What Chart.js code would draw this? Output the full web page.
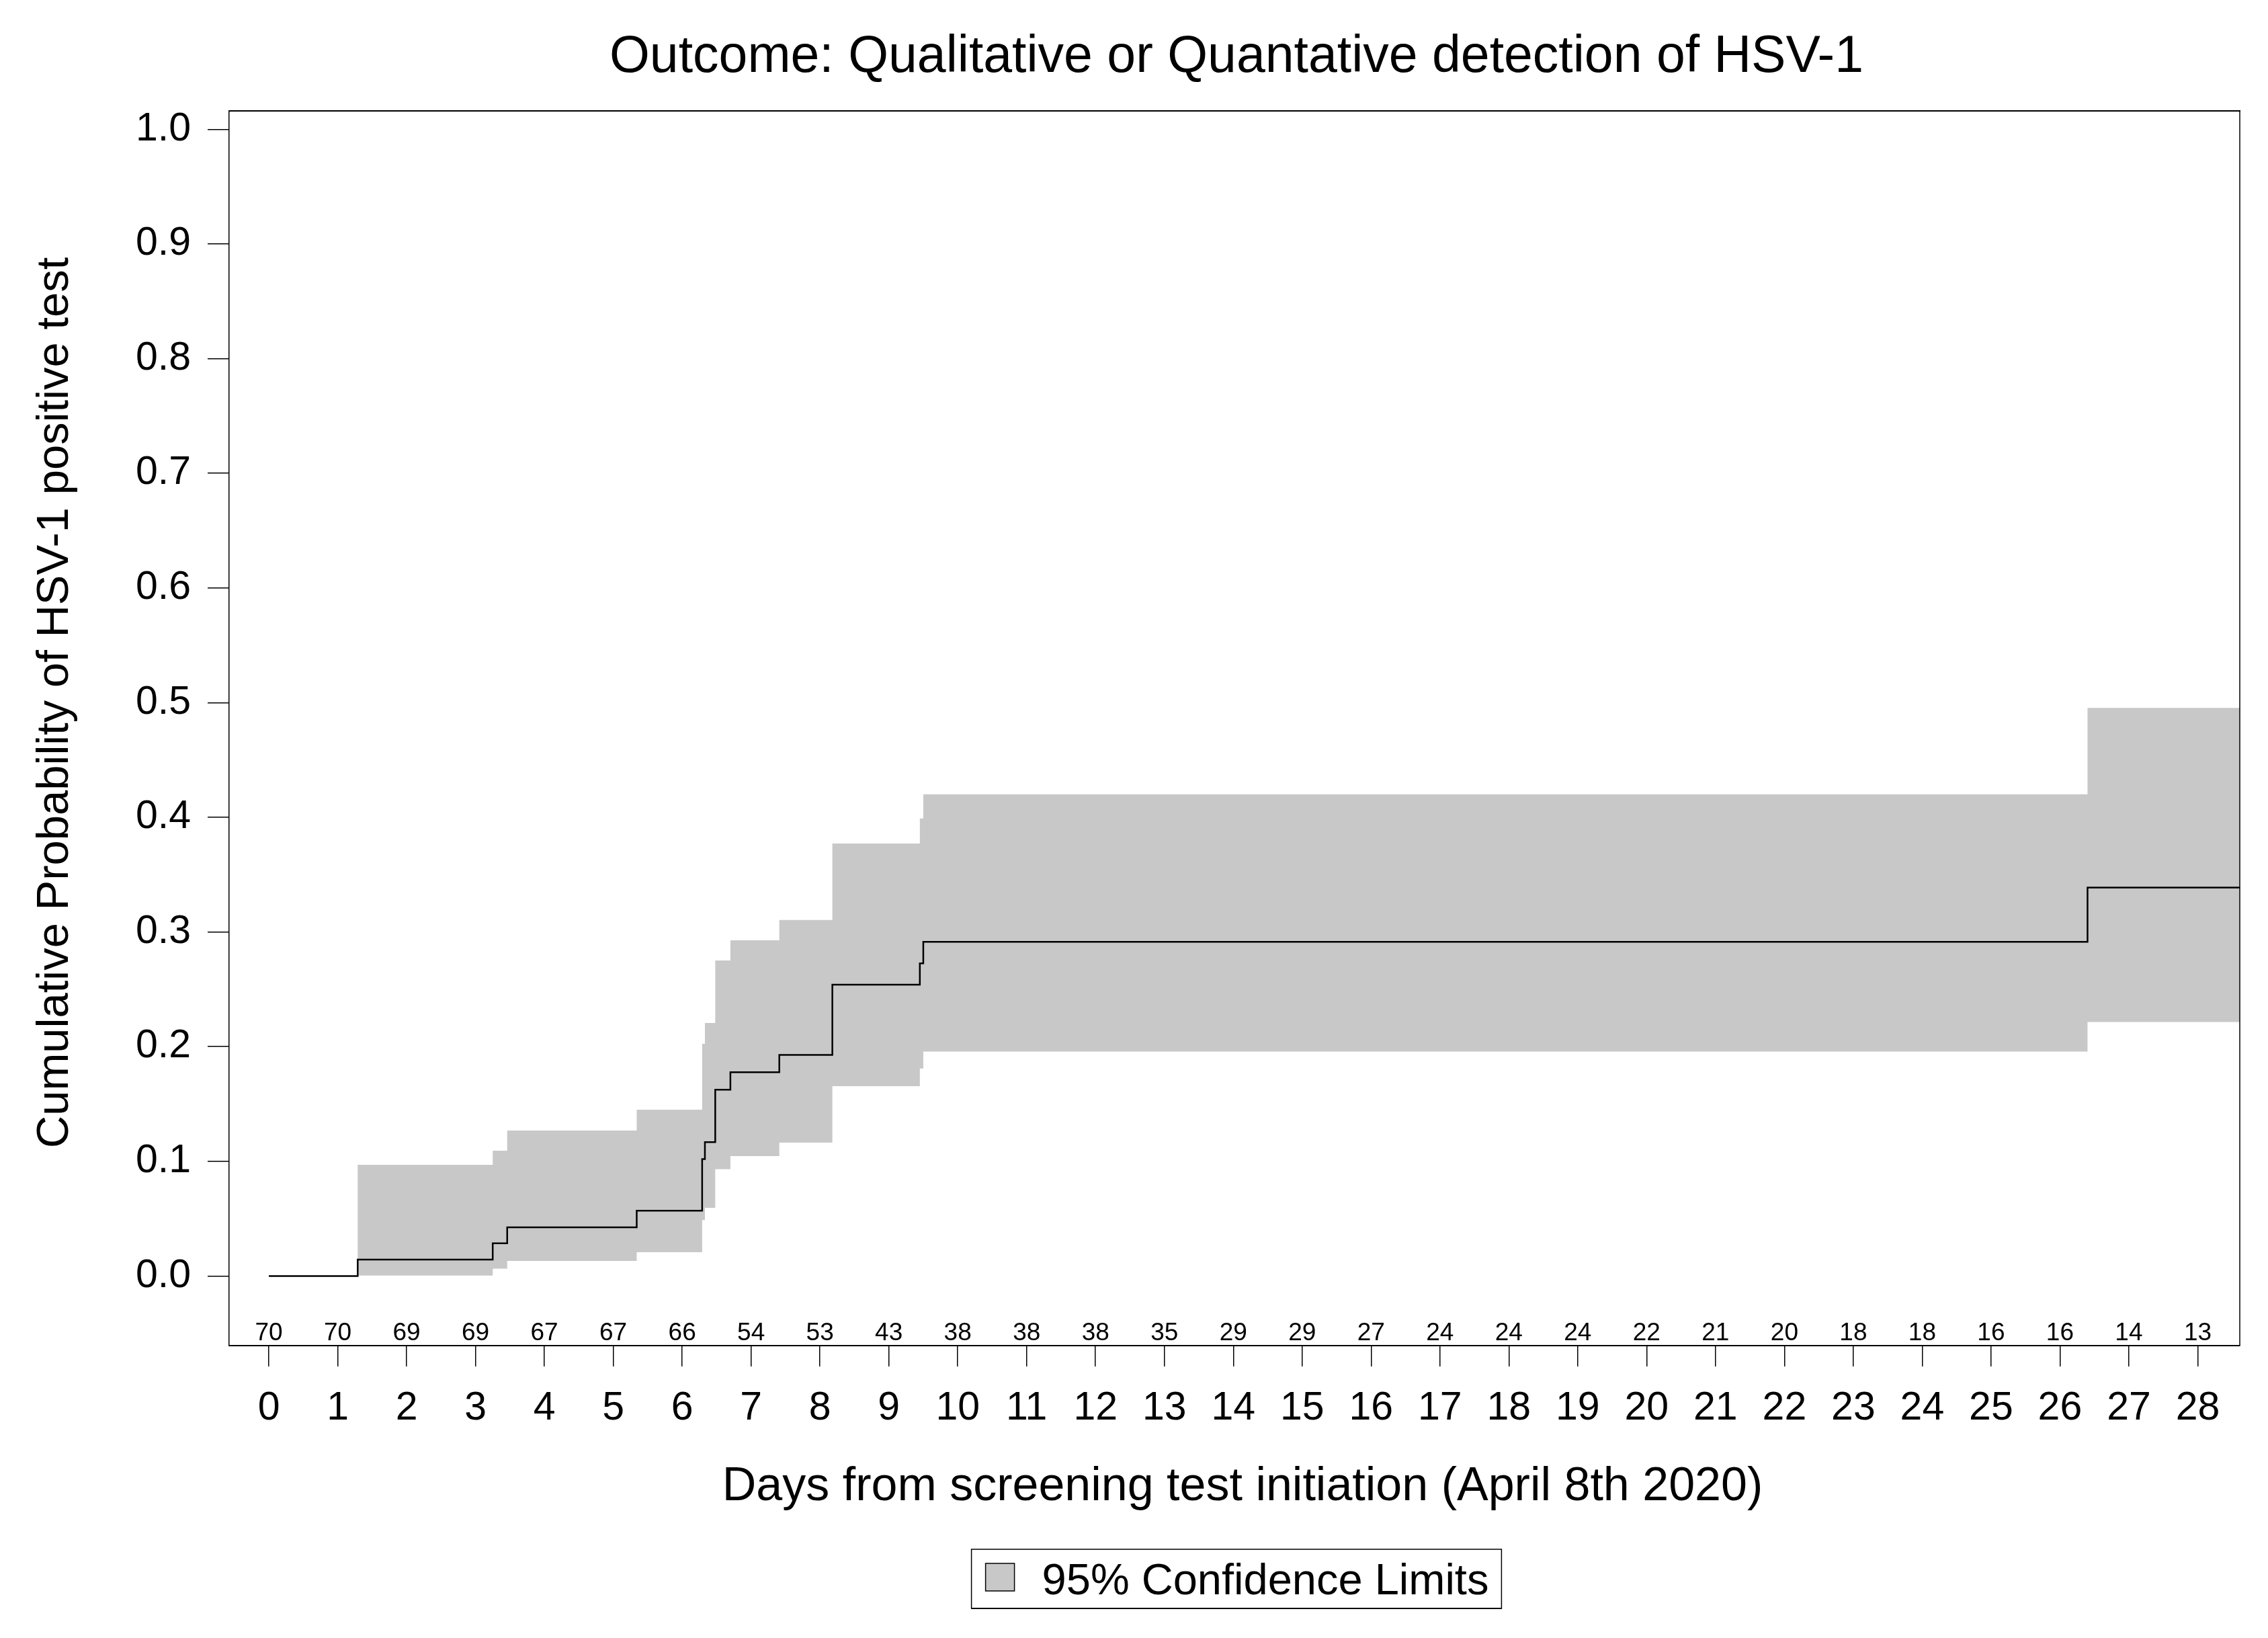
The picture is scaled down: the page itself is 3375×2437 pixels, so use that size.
<!DOCTYPE html>
<html><head><meta charset="utf-8">
<script src="https://cdn.jsdelivr.net/npm/chart.js@4.4.1/dist/chart.umd.min.js"></script>
<style>html,body{margin:0;padding:0;background:#fff;}canvas{display:block;}</style>
</head><body>
<canvas id="c" width="3375" height="2437" style="width:3375px;height:2437px"></canvas>
<script>
// ---- data ----
const eventDays = [0, 1.29, 3.25, 3.46, 5.34, 6.29, 6.33, 6.48, 6.70, 7.41, 8.18, 9.45, 9.50, 26.40, 28.61];
const cumProb   = [0, 0.0143, 0.0286, 0.0424, 0.0569, 0.1020, 0.1168, 0.1625, 0.1777, 0.1928, 0.2540, 0.2726, 0.2914, 0.3387, 0.3387];
const upperCL   = [0, 0.0969, 0.1093, 0.1269, 0.1451, 0.2025, 0.2207, 0.2752, 0.2928, 0.3104, 0.3772, 0.3990, 0.4201, 0.4954, 0.4954];
const lowerCL   = [0, 0.0004, 0.0064, 0.0132, 0.0208, 0.0488, 0.0595, 0.0932, 0.1046, 0.1163, 0.1656, 0.1809, 0.1958, 0.2215, 0.2215];
const xTickDays = [0,1,2,3,4,5,6,7,8,9,10,11,12,13,14,15,16,17,18,19,20,21,22,23,24,25,26,27,28];
const yTickValues = [0.0,0.1,0.2,0.3,0.4,0.5,0.6,0.7,0.8,0.9,1.0];
const numberAtRisk = [70,70,69,69,67,67,66,54,53,43,38,38,38,35,29,29,27,24,24,24,22,21,20,18,18,16,16,14,13];

const titleText = 'Outcome: Qualitative or Quantative detection of HSV-1';
const xTitleText = 'Days from screening test initiation (April 8th 2020)';
const yTitleText = 'Cumulative Probability of HSV-1 positive test';
const legendText = '95% Confidence Limits';

const FONT = '"Liberation Sans", Arial, Helvetica, sans-serif';
const CI_GRAY = '#c8c8c8';

const pts = (ys) => eventDays.map((d, i) => ({x: d, y: ys[i]}));

const decor = {
  id: 'decor',
  afterDraw(chart) {
    const {ctx, chartArea: a, scales: {x, y}} = chart;
    const cx = (a.left + a.right) / 2;
    ctx.save();
    ctx.strokeStyle = '#000';
    ctx.fillStyle = '#000';
    // top and right frame lines
    ctx.lineWidth = 2;
    ctx.beginPath(); ctx.moveTo(a.left, a.top); ctx.lineTo(a.right + 1, a.top); ctx.stroke();
    ctx.lineWidth = 1.5;
    ctx.beginPath(); ctx.moveTo(a.right, a.top); ctx.lineTo(a.right, a.bottom); ctx.stroke();

    // numbers at risk
    ctx.font = `37px ${FONT}`;
    ctx.textAlign = 'center';
    ctx.textBaseline = 'alphabetic';
    xTickDays.forEach((d, i) => {
      ctx.fillText(String(numberAtRisk[i]), x.getPixelForValue(d), a.bottom - 8);
    });

    // main title
    ctx.font = `77px ${FONT}`;
    ctx.fillText(titleText, cx + 3, 107);

    // x title
    ctx.font = `70px ${FONT}`;
    ctx.fillText(xTitleText, cx + 12, 2232);

    // y title
    ctx.save();
    ctx.translate(101, y.getPixelForValue(0.5));
    ctx.rotate(-Math.PI / 2);
    ctx.font = `67px ${FONT}`;
    ctx.fillText(yTitleText, 0, 0);
    ctx.restore();

    // legend
    ctx.font = `65px ${FONT}`;
    const tw = ctx.measureText(legendText).width;
    const boxW = 21 + 43 + 42 + tw + 18;
    const bx = cx + 3 - boxW / 2, by = 2305, bh = 88;
    ctx.lineWidth = 1.5;
    ctx.strokeRect(bx, by, boxW, bh);
    ctx.lineWidth = 2;
    ctx.beginPath(); ctx.moveTo(bx, by + bh); ctx.lineTo(bx + boxW, by + bh); ctx.stroke();
    ctx.lineWidth = 1.5;
    ctx.fillStyle = CI_GRAY;
    ctx.fillRect(bx + 21, by + 21, 43, 41);
    ctx.strokeStyle = '#000';
    ctx.strokeRect(bx + 21, by + 21, 43, 41);
    ctx.fillStyle = '#000';
    ctx.textAlign = 'left';
    ctx.fillText(legendText, bx + 21 + 43 + 41, by + 67);
    ctx.restore();
  }
};

new Chart(document.getElementById('c'), {
  type: 'line',
  data: {
    datasets: [
      { label: 'Cumulative probability', data: pts(cumProb), stepped: 'before',
        borderColor: '#000', borderWidth: 2.5, pointRadius: 0, fill: false, order: 0 },
      { label: 'Lower CL', data: pts(lowerCL), stepped: 'before',
        borderColor: 'rgba(0,0,0,0)', borderWidth: 0, pointRadius: 0, fill: false, order: 1 },
      { label: '95% Confidence Limits', data: pts(upperCL), stepped: 'before',
        borderColor: 'rgba(0,0,0,0)', borderWidth: 0, pointRadius: 0,
        backgroundColor: CI_GRAY, fill: 1, order: 2 }
    ]
  },
  options: {
    responsive: false,
    devicePixelRatio: 1,
    animation: false,
    events: [],
    layout: { padding: { left: 0, right: 42, top: 165, bottom: 0 } },
    plugins: { legend: { display: false }, tooltip: { enabled: false }, title: { display: false } },
    scales: {
      x: {
        type: 'linear', min: -0.576, max: 28.61,
        afterBuildTicks: (s) => { s.ticks = xTickDays.map(v => ({value: v})); },
        afterFit: (s) => { s.height = 435; },
        ticks: { color: '#000', font: { size: 59, family: FONT }, padding: 27, maxRotation: 0, autoSkip: false,
                 callback: (v) => String(v) },
        grid: { display: true, drawOnChartArea: false, drawTicks: true, tickLength: 31, color: '#000', lineWidth: 1.5 },
        border: { display: true, color: '#000', width: 2 }
      },
      y: {
        type: 'linear', min: -0.0607, max: 1.016,
        afterBuildTicks: (s) => { s.ticks = yTickValues.map(v => ({value: v})); },
        afterFit: (s) => { s.width = 341; },
        ticks: { color: '#000', font: { size: 59, family: FONT }, padding: 25, autoSkip: false,
                 callback: (v) => Number(v).toFixed(1) },
        grid: { display: true, drawOnChartArea: false, drawTicks: true, tickLength: 32, color: '#000', lineWidth: 1.5 },
        border: { display: true, color: '#000', width: 1.5 }
      }
    }
  },
  plugins: [decor]
});
</script>
</body></html>
